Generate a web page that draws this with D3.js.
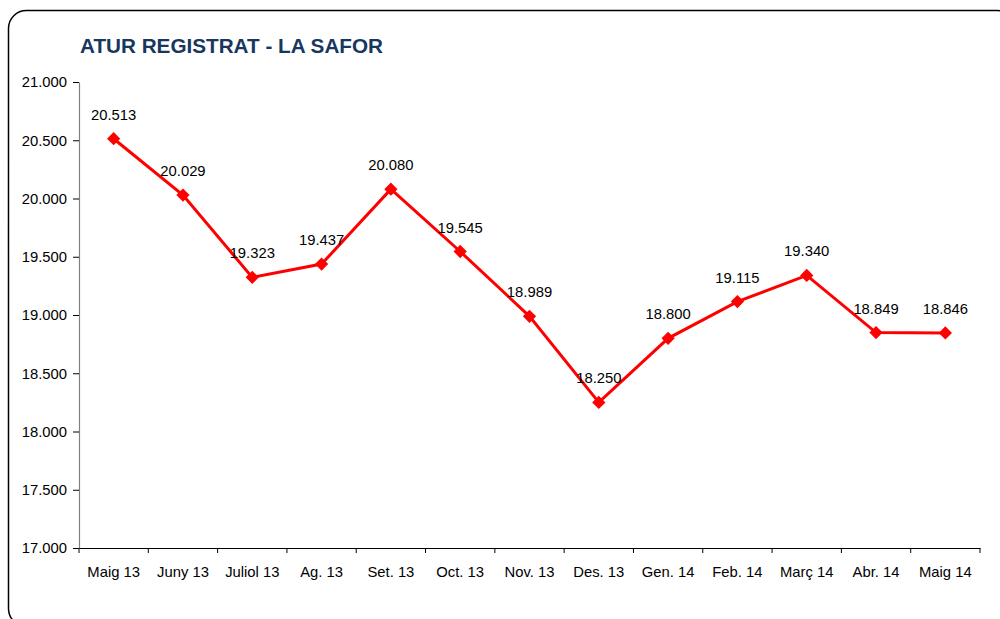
<!DOCTYPE html>
<html><head><meta charset="utf-8">
<script src="https://cdn.jsdelivr.net/npm/d3@7"></script>
<style>body{margin:0;background:#fff;}svg{display:block;font-family:"Liberation Sans",Arial,sans-serif;}</style>
</head><body>
<script>
const categories = ["Maig 13","Juny 13","Juliol 13","Ag. 13","Set. 13","Oct. 13","Nov. 13","Des. 13","Gen. 14","Feb. 14","Març 14","Abr. 14","Maig 14"];
const values = [20513,20029,19323,19437,20080,19545,18989,18250,18800,19115,19340,18849,18846];
const yTicks = [17000,17500,18000,18500,19000,19500,20000,20500,21000];
const title = "ATUR REGISTRAT - LA SAFOR";

const W=1000,H=619;
const svg=d3.select("body").append("svg").attr("width",W).attr("height",H);
// frame
svg.append("rect").attr("x",8.5).attr("y",10.5).attr("width",1007).attr("height",616).attr("rx",18)
  .attr("fill","none").attr("stroke","#000").attr("stroke-width",1.5);
svg.append("text").attr("x",80).attr("y",53).text(title)
  .attr("font-weight","bold").attr("font-size",20.7).attr("fill","#17375E");

const x0=79,x1=980,yTop=82,yBot=548;
const x=d3.scaleBand().domain(categories).range([x0,x1]);
const y=d3.scaleLinear().domain([17000,21000]).range([yBot,yTop]);
const fmtNum=v=>Math.floor(v/1000)+"."+String(v%1000).padStart(3,"0");

const yAxis=d3.axisLeft(y).tickValues(yTicks).tickFormat(fmtNum).tickSize(6).tickSizeOuter(0);
const gy=svg.append("g").attr("transform",`translate(${x0},0)`).call(yAxis);
gy.select(".domain").attr("stroke","#808080").attr("stroke-width",1.2);
gy.selectAll(".tick line").attr("stroke","#000");
gy.selectAll("text").attr("font-size",14.8).attr("fill","#000").attr("font-family","Liberation Sans, Arial").attr("x",-12);

const xAxis=d3.axisBottom(x).tickSize(0).tickSizeOuter(0);
const gx=svg.append("g").attr("transform",`translate(0,${yBot})`).call(xAxis);
gx.select(".domain").attr("stroke","#000").attr("stroke-width",1.2);
gx.selectAll("text").attr("font-size",14.8).attr("fill","#000").attr("font-family","Liberation Sans, Arial").attr("y",29).attr("dy",null);
// category boundary ticks
svg.append("g").selectAll("line").data(d3.range(categories.length+1)).join("line")
  .attr("x1",i=>x0+i*x.step()).attr("x2",i=>x0+i*x.step())
  .attr("y1",yBot).attr("y2",yBot+5).attr("stroke","#000");

const cx=d=>x(d)+x.bandwidth()/2;
const line=d3.line().x((d,i)=>cx(categories[i])).y(d=>y(d));
svg.append("path").datum(values).attr("d",line).attr("fill","none").attr("stroke","#FF0000").attr("stroke-width",3);
svg.append("g").selectAll("path").data(values).join("path")
  .attr("d",d3.symbol(d3.symbolSquare,88))
  .attr("transform",(d,i)=>`translate(${cx(categories[i])},${y(d)}) rotate(45)`)
  .attr("fill","#FF0000");
svg.append("g").selectAll("text").data(values).join("text")
  .attr("x",(d,i)=>cx(categories[i])).attr("y",d=>y(d)-19)
  .attr("text-anchor","middle").attr("font-size",14.8).attr("fill","#000")
  .text(fmtNum);
</script>
</body></html>
